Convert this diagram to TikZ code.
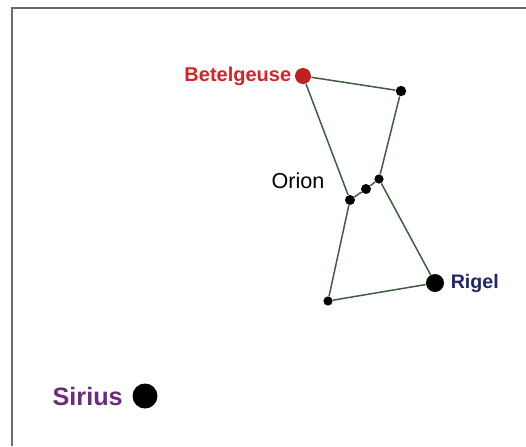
\documentclass[tikz,border=0pt]{standalone}
\usepackage{fontspec}
\setmainfont{Liberation Sans}
\usetikzlibrary{positioning}

\definecolor{linkgreen}{HTML}{3F5E3F}
\definecolor{betred}{HTML}{D42424}
\definecolor{rigelblue}{HTML}{23236E}
\definecolor{siriuspurple}{HTML}{6E2A7E}

\begin{document}
\begin{tikzpicture}[x=0.5pt,y=-0.5pt,
  star/.style={circle,fill=black,inner sep=0pt,minimum size=#1},
  link/.style={draw=linkgreen,line width=0.75pt},
  every node/.style={font=\fontsize{10}{12}\selectfont}]
  \useasboundingbox (0,0) rectangle (526,446);
  \draw[gray!85!black,line width=1.2pt] (12,446) -- (12,8) -- (526,8);
  % stars of Orion
  \node[star=8pt,fill=betred!90!black] (betelgeuse) at (303,76) {};
  \node[star=5.2pt] (bellatrix) at (401,91) {};
  \node[star=4.6pt] (mintaka) at (379,179) {};
  \node[star=5pt] (alnilam) at (366,189) {};
  \node[star=5pt] (alnitak) at (350,200) {};
  \node[star=4.6pt] (saiph) at (328,301) {};
  \node[star=9pt] (rigel) at (435,283) {};
  \node[star=12.5pt] (sirius) at (145,396) {};
  \begin{scope}[on background layer/.try]
    \draw[link] (betelgeuse) -- (bellatrix) -- (mintaka) -- (rigel)
      -- (saiph) -- (alnitak) -- (betelgeuse);
    \draw[link] (alnitak) -- (alnilam) -- (mintaka);
  \end{scope}
  \node[left=1.5pt of betelgeuse,inner sep=0pt,text=betred,font=\bfseries\fontsize{10}{12}\selectfont] (betlabel) {Betelgeuse};
  \node[right=3pt of rigel,inner sep=0pt,text=rigelblue,font=\bfseries\fontsize{9.8}{12}\selectfont] (rigellabel) {Rigel};
  \node[left=4.5pt of sirius,inner sep=0pt,text=siriuspurple,font=\bfseries\fontsize{12.6}{15}\selectfont] (siriuslabel) {Sirius};
  \node[inner sep=0pt,font=\fontsize{10.8}{13}\selectfont] (orion) at (298,181) {Orion};
\end{tikzpicture}
\end{document}
